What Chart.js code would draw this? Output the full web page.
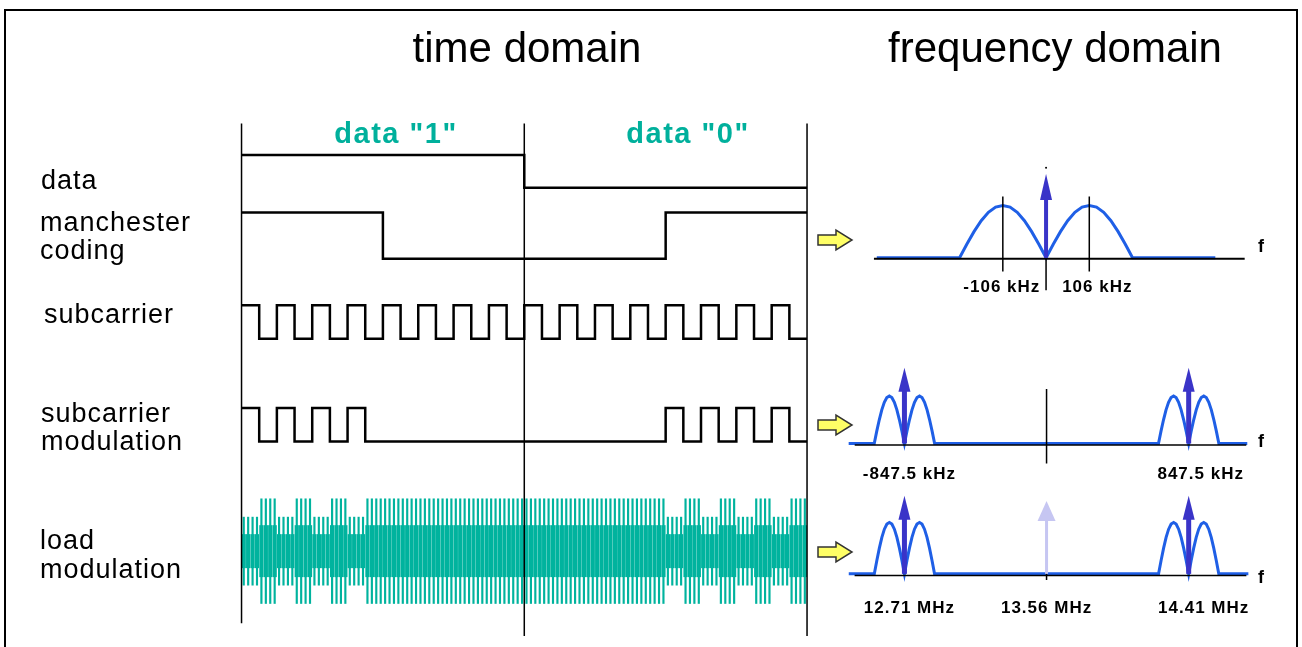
<!DOCTYPE html>
<html>
<head>
<meta charset="utf-8">
<title>time domain / frequency domain</title>
<script src="https://cdn.jsdelivr.net/npm/chart.js@4.4.1/dist/chart.umd.min.js"></script>
<style>
  html, body { margin: 0; padding: 0; background: #fff; }
  canvas { display: block; }
</style>
</head>
<body>
<canvas id="chart" width="1302" height="647"></canvas>
<script>
const W = 1302, H = 647;

// ---- time domain signals (time in bit periods, 16 half periods of subcarrier per bit) ----
const bitLabels = ['data "1"', 'data "0"'];
const dataBits = [1, 0];
const manchesterLevels = [1, 0, 0, 1];
const subcarrierLevels = [1,0,1,0,1,0,1,0,1,0,1,0,1,0,1,0, 1,0,1,0,1,0,1,0,1,0,1,0,1,0,1,0];
const subcarrierModLevels = [1,0,1,0,1,0,1,0,0,0,0,0,0,0,0,0, 0,0,0,0,0,0,0,0,1,0,1,0,1,0,1,0];
const loadAmplitude = [0.65,1,0.65,1,0.65,1,0.65,1,1,1,1,1,1,1,1,1, 1,1,1,1,1,1,1,1,0.65,1,0.65,1,0.65,1,0.65,1];
const carrierLinesPerHalf = 4;
const loadCore = 0.49;
const rowLabels = [['data'], ['manchester', 'coding'], ['subcarrier'], ['subcarrier', 'modulation'], ['load', 'modulation']];

// ---- frequency domain ----
const lobeProfile = [0, 0.26, 0.5, 0.71, 0.87, 0.97, 1, 0.97, 0.87, 0.71, 0.5, 0.26, 0];

// manchester coded data, kHz
const spec1Range = [-415, 415];
const spec1Axis = [-422, 487];
const spec1Lobes = [[-212, 0], [0, 212]];
const spec1Lines = [0];
const spec1LineHeight = [1.6];
const spec1Marks = [-106, 106];
const spec1TickValues = [-106, 106];
const spec1Ticks = ['-106 kHz', '106 kHz'];

// subcarrier modulation, kHz
const spec2Range = [-1180, 1197];
const spec2Axis = [-1144, 1191];
const spec2Lobes = [[-1027.5, -847.5], [-847.5, -667.5], [667.5, 847.5], [847.5, 1027.5]];
const spec2Lines = [-847.5, 847.5];
const spec2LineHeight = [1.6, 1.6];
const spec2TickValues = [-847.5, 847.5];
const spec2Ticks = ['-847.5 kHz', '847.5 kHz'];

// load modulation, MHz
const spec3Range = [12.377, 14.767];
const spec3Axis = [12.412, 14.755];
const spec3Lobes = [[12.53, 12.71], [12.71, 12.89], [14.23, 14.41], [14.41, 14.59]];
const spec3Lines = [12.71, 14.41];
const spec3LineHeight = [1.52, 1.52];
const spec3Carrier = [13.56];
const spec3CarrierHeight = [1.42];
const spec3TickValues = [12.71, 13.56, 14.41];
const spec3Ticks = ['12.71 MHz', '13.56 MHz', '14.41 MHz'];

const teal = '#00b39e';
const blue = '#1f5fe6';
const indigo = '#3a34c8';
const lilac = '#c6c6f2';

// value v0 sits on pixel p0, v1 on p1
function axisX(v0, p0, v1, p1) {
    const k = (v1 - v0) / (p1 - p0);
    return { type: 'linear', axis: 'x', display: false, offset: false, min: v0 - p0 * k, max: v0 + (W - p0) * k };
}
function axisY(v0, p0, v1, p1) {
    const k = (v1 - v0) / (p1 - p0);
    const top = v0 - p0 * k, bottom = v0 + (H - p0) * k;
    return { type: 'linear', axis: 'y', display: false, offset: false, min: Math.min(top, bottom), max: Math.max(top, bottom) };
}

function steps(levels, span) {
    const pts = levels.map((v, i) => ({ x: i * span / levels.length, y: v }));
    pts.push({ x: span, y: levels[levels.length - 1] });
    return pts;
}
function spectrum(range, lobes) {
    const pts = [{ x: range[0], y: 0 }];
    lobes.forEach(([a, b]) => {
        lobeProfile.forEach((v, i) => pts.push({ x: a + (b - a) * i / (lobeProfile.length - 1), y: v }));
    });
    pts.push({ x: range[1], y: 0 });
    return pts;
}
function seg(x0, y0, x1, y1, xAxisID, yAxisID, color, width) {
    return {
        type: 'line', data: [{ x: x0, y: y0 }, { x: x1, y: y1 }], xAxisID, yAxisID,
        borderColor: color, borderWidth: width, pointRadius: 0, fill: false, borderCapStyle: 'butt'
    };
}
function wave(levels, yAxisID) {
    return {
        type: 'line', data: steps(levels, 2), xAxisID: 'xT', yAxisID, stepped: true,
        borderColor: '#000', borderWidth: 2.5, pointRadius: 0, fill: false
    };
}

// load modulation carrier lines
const loadLines = [], loadBand = [];
loadAmplitude.forEach((a, i) => {
    for (let j = 0; j < carrierLinesPerHalf; j++) {
        const t = (i + (j + 0.5) / carrierLinesPerHalf) / 16;
        loadLines.push({ x: t, y: [-a, a] });
        loadBand.push({ x: t, y: [-a * loadCore, a * loadCore] });
    }
});

const datasets = [];
// bit dividers
[0, 1, 2].forEach((t, i) => datasets.push(seg(t, 121, t, i === 0 ? 627 : 640, 'xT', 'yPx', '#000', 1.5)));
datasets.push(wave(dataBits, 'yData'));
datasets.push(wave(manchesterLevels, 'yMan'));
datasets.push(wave(subcarrierLevels, 'ySub'));
datasets.push(wave(subcarrierModLevels, 'yMod'));
datasets.push({ type: 'bar', data: loadLines, xAxisID: 'xT', yAxisID: 'yLoad', grouped: false, barThickness: 1.5, backgroundColor: teal, borderWidth: 0 });
datasets.push({ type: 'bar', data: loadBand, xAxisID: 'xT', yAxisID: 'yLoad', grouped: false, barThickness: 3.6, backgroundColor: teal, borderWidth: 0 });

// panel 1 (black axis sits just under the blue trace)
datasets.push(seg(spec1Axis[0], -0.02, spec1Axis[1], -0.02, 'xF1', 'yF1', '#000', 2));
spec1Marks.forEach(f => datasets.push(seg(f, 1.17, f, -0.26, 'xF1', 'yF1', '#000', 1.5)));
datasets.push(seg(0, 0, 0, -0.62, 'xF1', 'yF1', '#000', 1.5));
datasets.push({ type: 'line', data: spectrum(spec1Range, spec1Lobes), xAxisID: 'xF1', yAxisID: 'yF1', borderColor: blue, borderWidth: 3, pointRadius: 0, fill: false });
datasets.push({ type: 'line', data: [{ x: 0, y: 1.72 }], xAxisID: 'xF1', yAxisID: 'yF1', showLine: false, pointRadius: 1, pointBackgroundColor: '#000', pointBorderWidth: 0 });

// panel 2
datasets.push(seg(spec2Axis[0], -0.03, spec2Axis[1], -0.03, 'xF2', 'yF2', '#000', 1.5));
datasets.push(seg(0, 1.15, 0, -0.42, 'xF2', 'yF2', '#000', 1.5));
datasets.push({ type: 'line', data: spectrum(spec2Range, spec2Lobes), xAxisID: 'xF2', yAxisID: 'yF2', borderColor: blue, borderWidth: 3, pointRadius: 0, fill: false });

// panel 3
datasets.push(seg(spec3Axis[0], -0.03, spec3Axis[1], -0.03, 'xF3', 'yF3', '#000', 1.5));
datasets.push(seg(13.56, 0, 13.56, -0.12, 'xF3', 'yF3', '#000', 1.5));
datasets.push({ type: 'line', data: spectrum(spec3Range, spec3Lobes), xAxisID: 'xF3', yAxisID: 'yF3', borderColor: blue, borderWidth: 3, pointRadius: 0, fill: false });

function text(ctx, s, x, y, font, color, align, spacing) {
    ctx.font = font;
    ctx.fillStyle = color;
    ctx.textAlign = align || 'left';
    ctx.textBaseline = 'alphabetic';
    ctx.letterSpacing = spacing || '0px';
    ctx.fillText(s, x, y);
}
function spike(ctx, xs, ys, f, h, color, shaftW, headW, headH) {
    const x = xs.getPixelForValue(f), y0 = ys.getPixelForValue(0), yt = ys.getPixelForValue(h);
    ctx.fillStyle = color;
    ctx.fillRect(x - shaftW / 2, yt + headH - 1, shaftW, y0 - yt - headH + 1);
    ctx.beginPath();
    ctx.moveTo(x - headW / 2, yt + headH);
    ctx.lineTo(x, yt);
    ctx.lineTo(x + headW / 2, yt + headH);
    ctx.closePath();
    ctx.fill();
}
function pointer(ctx, cy) {
    ctx.beginPath();
    ctx.moveTo(818, cy - 5);
    ctx.lineTo(836, cy - 5);
    ctx.lineTo(836, cy - 10);
    ctx.lineTo(852, cy);
    ctx.lineTo(836, cy + 10);
    ctx.lineTo(836, cy + 5);
    ctx.lineTo(818, cy + 5);
    ctx.closePath();
    ctx.fillStyle = '#ffff66';
    ctx.fill();
    ctx.lineWidth = 1.5;
    ctx.strokeStyle = '#333';
    ctx.stroke();
}

const decor = {
    id: 'decor',
    afterDatasetsDraw(chart) {
        const ctx = chart.ctx, s = chart.scales;
        ctx.save();
        // spectral lines
        spec1Lines.forEach((f, i) => spike(ctx, s.xF1, s.yF1, f, spec1LineHeight[i], indigo, 4, 12, 26));
        spec2Lines.forEach((f, i) => spike(ctx, s.xF2, s.yF2, f, spec2LineHeight[i], indigo, 5, 12, 24));
        spec3Lines.forEach((f, i) => spike(ctx, s.xF3, s.yF3, f, spec3LineHeight[i], indigo, 5, 12, 24));
        spec3Carrier.forEach((f, i) => spike(ctx, s.xF3, s.yF3, f, spec3CarrierHeight[i], lilac, 3, 18, 20));

        // yellow pointers
        [240, 425, 552].forEach(cy => pointer(ctx, cy));

        // titles
        text(ctx, 'time domain', 527, 62, "42px 'Liberation Sans'", '#000', 'center');
        text(ctx, 'frequency domain', 1055, 62, "42px 'Liberation Sans'", '#000', 'center');
        const bitX = [396, 688];
        bitLabels.forEach((b, i) => text(ctx, b, bitX[i], 143, "bold 29px 'Liberation Sans'", '#00b09c', 'center', '1.5px'));

        // row labels
        const rowPos = [[[41, 189]], [[40, 231], [40, 259]], [[44, 323]], [[41, 422], [41, 450]], [[40, 549], [40, 578]]];
        rowLabels.forEach((lines, r) => lines.forEach((l, k) => text(ctx, l, rowPos[r][k][0], rowPos[r][k][1], "27px 'Liberation Sans'", '#000', 'left', '1px')));

        // frequency tick labels
        const tf = "bold 17px 'Liberation Sans'";
        const d1 = [-1, 8];
        spec1TickValues.forEach((v, i) => text(ctx, spec1Ticks[i], s.xF1.getPixelForValue(v) + d1[i], 292, tf, '#000', 'center', '1px'));
        const d2 = [5, 12];
        spec2TickValues.forEach((v, i) => text(ctx, spec2Ticks[i], s.xF2.getPixelForValue(v) + d2[i], 479, tf, '#000', 'center', '1px'));
        const d3 = [5, 0, 15];
        spec3TickValues.forEach((v, i) => text(ctx, spec3Ticks[i], s.xF3.getPixelForValue(v) + d3[i], 613, tf, '#000', 'center', '1px'));
        const ff = "bold 18px 'Liberation Sans'";
        text(ctx, 'f', 1258, 252, ff, '#000');
        text(ctx, 'f', 1258, 447, ff, '#000');
        text(ctx, 'f', 1258, 583, ff, '#000');

        // frame
        ctx.lineWidth = 2;
        ctx.strokeStyle = '#000';
        ctx.strokeRect(5, 10, 1292, 700);
        ctx.restore();
    }
};

new Chart(document.getElementById('chart'), {
    type: 'scatter',
    data: { datasets },
    options: {
        responsive: false,
        animation: false,
        devicePixelRatio: 1,
        layout: { padding: 0 },
        plugins: { legend: { display: false }, tooltip: { enabled: false } },
        events: [],
        scales: {
            xT: axisX(0, 239, 2, 808),
            xF1: axisX(-106, 1005, 106, 1092),
            xF2: axisX(-847.5, 906, 847.5, 1192),
            xF3: axisX(12.71, 906, 14.41, 1192),
            yPx: { type: 'linear', axis: 'y', display: false, offset: false, min: 0, max: H, reverse: true },
            yData: axisY(0, 186, 1, 153),
            yMan: axisY(0, 258, 1, 211),
            ySub: axisY(0, 339, 1, 305),
            yMod: axisY(0, 443, 1, 409),
            yLoad: axisY(0, 554, 1, 501),
            yF1: axisY(0, 257, 1, 204),
            yF2: axisY(0, 445, 1, 397),
            yF3: axisY(0, 577, 1, 525)
        }
    },
    plugins: [decor]
});
</script>
</body>
</html>
